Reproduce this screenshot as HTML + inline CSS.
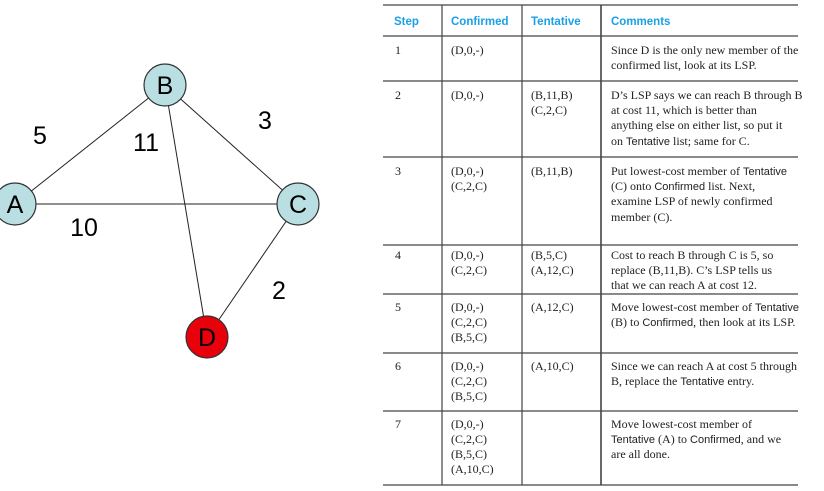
<!DOCTYPE html>
<html><head><meta charset="utf-8"><style>
body{margin:0;width:824px;height:491px;background:#fff;overflow:hidden;position:relative}
svg{position:absolute;left:0;top:0}
.t{font-family:"Liberation Serif",serif;font-size:12px;fill:#222}
.s{font-family:"Liberation Sans",sans-serif;font-size:11px;fill:#222}
.h{font-family:"Liberation Sans",sans-serif;font-size:11.5px;font-weight:bold;fill:#1aa0e8}
.n{font-family:"Liberation Sans",sans-serif;font-size:25px;fill:#000}
</style></head><body>
<svg width="824" height="491">
<g stroke="#222" stroke-width="1">
<line x1="165" y1="85" x2="15" y2="204"/>
<line x1="165" y1="85" x2="298" y2="204"/>
<line x1="165" y1="85" x2="207" y2="337"/>
<line x1="15" y1="204" x2="298" y2="204"/>
<line x1="298" y1="204" x2="207" y2="337"/>
</g>
<g stroke="#333" stroke-width="1.2">
<circle cx="165" cy="85" r="21" fill="#b9dfe2"/>
<circle cx="15" cy="204" r="21" fill="#b9dfe2"/>
<circle cx="298" cy="204" r="21" fill="#b9dfe2"/>
<circle cx="207" cy="337" r="21" fill="#e8000a"/>
</g>
<g class="n" text-anchor="middle">
<text x="165" y="94">B</text><text x="15" y="213">A</text><text x="298" y="213">C</text><text x="207" y="346">D</text>
<text x="40" y="144">5</text><text x="146" y="151">11</text><text x="265" y="129">3</text><text x="84" y="236">10</text><text x="279" y="299">2</text>
</g>
<g stroke="#444" stroke-width="1.2">
<line x1="383" y1="5" x2="798" y2="5"/>
<line x1="383" y1="36" x2="798" y2="36"/>
<line x1="383" y1="81" x2="798" y2="81"/>
<line x1="383" y1="157" x2="798" y2="157"/>
<line x1="383" y1="245" x2="798" y2="245"/>
<line x1="383" y1="294" x2="798" y2="294"/>
<line x1="383" y1="353" x2="798" y2="353"/>
<line x1="383" y1="411" x2="798" y2="411"/>
<line x1="383" y1="485" x2="798" y2="485"/>
<line x1="442" y1="5" x2="442" y2="485"/>
<line x1="522" y1="5" x2="522" y2="485"/>
<line x1="601" y1="5" x2="601" y2="485" stroke-width="1.6"/>
</g>
<g class="h"><text x="394" y="25">Step</text><text x="451" y="25">Confirmed</text><text x="531" y="25">Tentative</text><text x="611" y="25">Comments</text></g>
<g class="t">
<text x="395" y="54">1</text><text x="451" y="54">(D,0,-)</text>
<text x="611" y="54">Since D is the only new member of the</text><text x="611" y="69">confirmed list, look at its LSP.</text>
<text x="395" y="99">2</text><text x="451" y="99">(D,0,-)</text><text x="531" y="99">(B,11,B)</text><text x="531" y="114">(C,2,C)</text>
<text x="611" y="99">D’s LSP says we can reach B through B</text><text x="611" y="114">at cost 11, which is better than</text><text x="611" y="129">anything else on either list, so put it</text><text x="611" y="145">on <tspan class="s">Tentative</tspan> list; same for C.</text>
<text x="395" y="175">3</text><text x="451" y="175">(D,0,-)</text><text x="451" y="190">(C,2,C)</text><text x="531" y="175">(B,11,B)</text>
<text x="611" y="175">Put lowest-cost member of <tspan class="s">Tentative</tspan></text><text x="611" y="190">(C) onto <tspan class="s">Confirmed</tspan> list. Next,</text><text x="611" y="205">examine LSP of newly confirmed</text><text x="611" y="221">member (C).</text>
<text x="395" y="259">4</text><text x="451" y="259">(D,0,-)</text><text x="451" y="274">(C,2,C)</text><text x="531" y="259">(B,5,C)</text><text x="531" y="274">(A,12,C)</text>
<text x="611" y="259">Cost to reach B through C is 5, so</text><text x="611" y="274">replace (B,11,B). C’s LSP tells us</text><text x="611" y="289">that we can reach A at cost 12.</text>
<text x="395" y="311">5</text><text x="451" y="311">(D,0,-)</text><text x="451" y="326">(C,2,C)</text><text x="451" y="341">(B,5,C)</text><text x="531" y="311">(A,12,C)</text>
<text x="611" y="311">Move lowest-cost member of <tspan class="s">Tentative</tspan></text><text x="611" y="326">(B) to <tspan class="s">Confirmed</tspan>, then look at its LSP.</text>
<text x="395" y="370">6</text><text x="451" y="370">(D,0,-)</text><text x="451" y="385">(C,2,C)</text><text x="451" y="400">(B,5,C)</text><text x="531" y="370">(A,10,C)</text>
<text x="611" y="370">Since we can reach A at cost 5 through</text><text x="611" y="385">B, replace the <tspan class="s">Tentative</tspan> entry.</text>
<text x="395" y="428">7</text><text x="451" y="428">(D,0,-)</text><text x="451" y="443">(C,2,C)</text><text x="451" y="458">(B,5,C)</text><text x="451" y="473">(A,10,C)</text>
<text x="611" y="428">Move lowest-cost member of</text><text x="611" y="443"><tspan class="s">Tentative</tspan> (A) to <tspan class="s">Confirmed</tspan>, and we</text><text x="611" y="458">are all done.</text>
</g>
</svg>
</body></html>
